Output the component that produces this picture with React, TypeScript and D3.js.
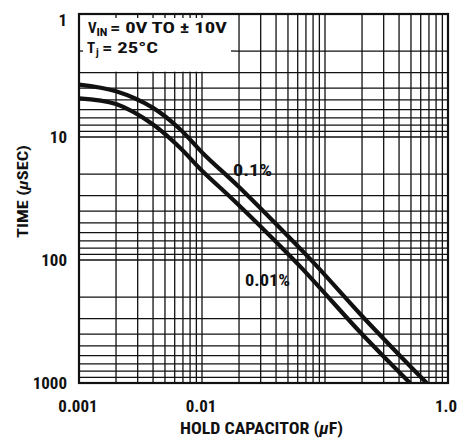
import React from "react";
import * as d3 from "d3";

const W = 458;
const H = 438;

// X axis: hold capacitor (µF), log scale
const xDomain = [0.001, 1];
const xTickValues = [0.001, 0.01, 1];
const xTickLabels = ["0.001", "0.01", "1.0"];

// Y axis: time (µs), log scale, inverted (1 at top)
const yDomain = [1, 1000];
const yTickValues = [1, 10, 100, 1000];
const yTickLabels = ["1", "10", "100", "1000"];

// Curve to 0.1%
const capTenth = [0.001, 0.002, 0.004, 0.0066, 0.0102, 0.02, 0.04, 0.08, 0.2, 0.43, 0.671];
const timeTenth = [3.75, 4.25, 5.8, 8.6, 13.6, 25.5, 51, 104, 285, 635, 1000];

// Curve to 0.01%
const capHundredth = [0.001, 0.002, 0.004, 0.0065, 0.01, 0.018, 0.034, 0.065, 0.19, 0.32, 0.491];
const timeHundredth = [4.85, 5.4, 7.9, 12, 18.8, 32.5, 60.5, 117, 380, 650, 1000];

const FONT = "'Liberation Sans Narrow', 'Arial Narrow', 'Roboto Condensed', sans-serif";
const INK = "#111";

export default function App() {
  const left = 79, right = 448, top = 14, bottom = 383;
  const x = d3.scaleLog().domain(xDomain).range([left, right]);
  const y = d3.scaleLog().domain(yDomain).range([top, bottom]);

  const gridX: number[] = [];
  for (let e = -3; e < 0; e++) for (let m = 1; m <= 9; m++) gridX.push(m * Math.pow(10, e));
  gridX.push(1);
  const gridY: number[] = [];
  for (let e = 0; e < 3; e++) for (let m = 1; m <= 9; m++) gridY.push(m * Math.pow(10, e));
  gridY.push(1000);

  const line = d3
    .line<[number, number]>()
    .x((d) => x(d[0]))
    .y((d) => y(d[1]))
    .curve(d3.curveCatmullRom.alpha(0.5));

  const tenth = line(capTenth.map((c, i) => [c, timeTenth[i]] as [number, number])) || "";
  const hundredth = line(capHundredth.map((c, i) => [c, timeHundredth[i]] as [number, number])) || "";

  // box for the conditions text (grid blanked)
  const boxRight = 236;
  const boxBottom = y(3);

  return (
    <svg
      width={W}
      height={H}
      viewBox={`0 0 ${W} ${H}`}
      style={{ position: "absolute", left: 0, top: 0, background: "#fff" }}
      fontFamily={FONT}
      fontWeight="bold"
    >
      <defs>
        <clipPath id="plot">
          <rect x={left} y={top} width={right - left} height={bottom - top} />
        </clipPath>
      </defs>
      <rect x={0} y={0} width={W} height={H} fill="#fff" />

      {/* grid */}
      <g stroke={INK} strokeWidth={1.3}>
        {gridX.map((v, i) => (
          <line key={"gx" + i} x1={x(v)} x2={x(v)} y1={top} y2={bottom} />
        ))}
        {gridY.map((v, i) => (
          <line key={"gy" + i} x1={left} x2={right} y1={y(v)} y2={y(v)} />
        ))}
      </g>

      {/* blank box for conditions */}
      <rect x={left + 1} y={top + 1} width={boxRight - left - 1} height={boxBottom - top - 2} fill="#fff" />
      <g stroke={INK} strokeWidth={1.3}>
        {gridX
          .filter((v) => x(v) > left + 2 && x(v) < boxRight)
          .map((v, i) => (
            <line key={"tx" + i} x1={x(v)} x2={x(v)} y1={top} y2={top + 4} />
          ))}
        <line x1={left} x2={left + 4} y1={y(2)} y2={y(2)} />
        <line x1={boxRight - 5} x2={boxRight} y1={y(2)} y2={y(2)} />
      </g>

      {/* border */}
      <rect x={left} y={top} width={right - left} height={bottom - top} fill="none" stroke={INK} strokeWidth={2.2} />

      {/* curves */}
      <g clipPath="url(#plot)" fill="none" stroke={INK} strokeWidth={4.2} strokeLinejoin="round">
        <path d={tenth} />
        <path d={hundredth} />
      </g>

      {/* y tick labels */}
      <g fontSize={17} textAnchor="end" fill={INK}>
        {yTickValues.map((v, i) => (
          <text key={"yl" + i} x={67} y={(v === 1 ? y(v) + 6 : y(v)) + 6}>
            {yTickLabels[i]}
          </text>
        ))}
      </g>

      {/* x tick labels */}
      <g fontSize={17} textAnchor="middle" fill={INK}>
        {xTickValues.map((v, i) => (
          <text key={"xl" + i} x={v === 1 ? x(v) - 2 : x(v) - 1} y={412}>
            {xTickLabels[i]}
          </text>
        ))}
      </g>

      {/* axis titles */}
      <text x={261.5} y={434} fontSize={16} textAnchor="middle" fill={INK} textLength={163} lengthAdjust="spacingAndGlyphs">
        HOLD CAPACITOR (<tspan fontStyle="italic">µ</tspan>F)
      </text>
      <text
        transform={`translate(28,191.5) rotate(-90)`}
        fontSize={15}
        textAnchor="middle"
        fill={INK}
        textLength={93}
        lengthAdjust="spacingAndGlyphs"
      >
        TIME (<tspan fontStyle="italic">µ</tspan>SEC)
      </text>

      {/* conditions */}
      <g fill={INK}>
        <text x={88} y={32.5} fontSize={15}>V</text>
        <text x={96.5} y={35.5} fontSize={11} textLength={11} lengthAdjust="spacingAndGlyphs">IN</text>
        <text x={110} y={32.5} fontSize={15} textLength={117} lengthAdjust="spacingAndGlyphs">= 0V TO  ± 10V</text>
        <text x={87} y={53} fontSize={15}>T</text>
        <text x={96} y={56} fontSize={11}>j</text>
        <text x={102} y={53} fontSize={15} textLength={56} lengthAdjust="spacingAndGlyphs">= 25°C</text>
      </g>

      {/* curve labels */}
      <text x={233} y={175.5} fontSize={16} fill={INK} textLength={39} lengthAdjust="spacingAndGlyphs">
        0.1%
      </text>
      <text x={245} y={285.5} fontSize={16} fill={INK} textLength={45} lengthAdjust="spacingAndGlyphs">
        0.01%
      </text>
    </svg>
  );
}
